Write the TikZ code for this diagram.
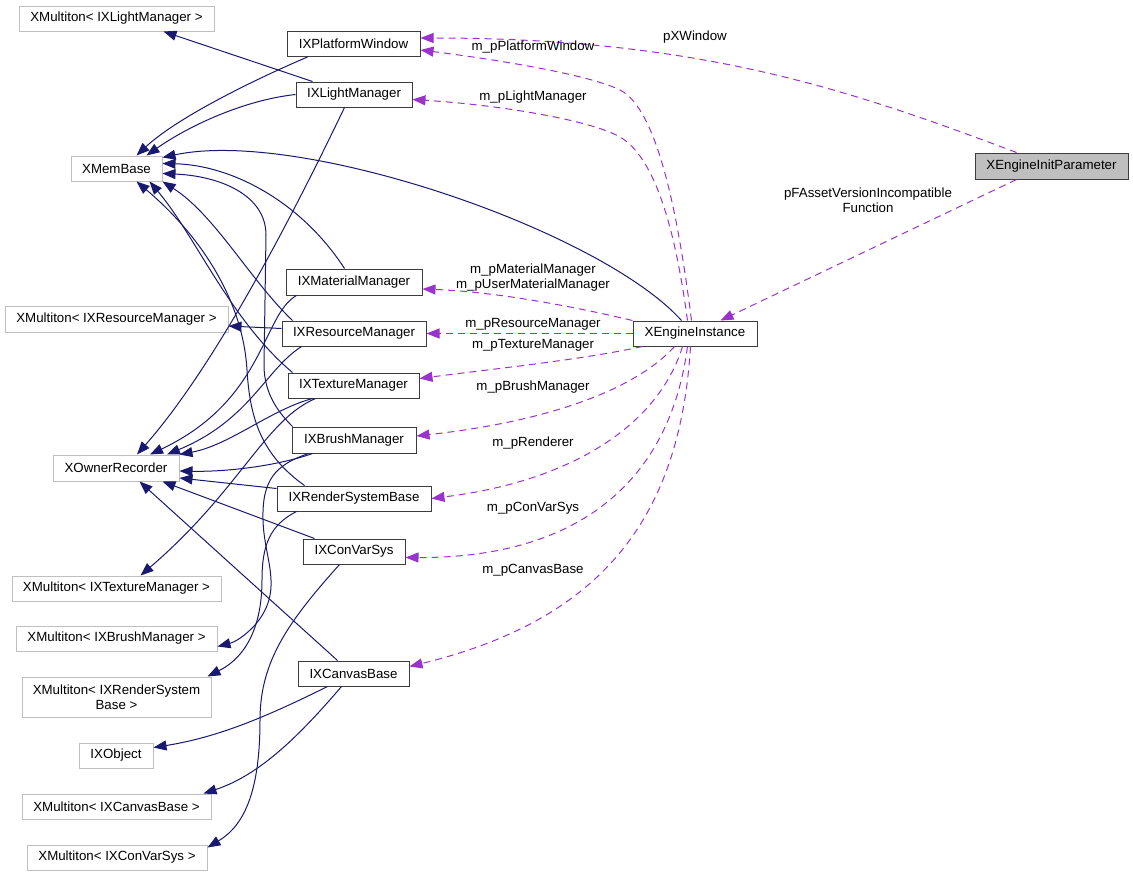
\documentclass[tikz,border=0pt]{standalone}
\usepackage{fontspec}
\setmainfont{Liberation Sans}
\usetikzlibrary{arrows.meta}
\definecolor{navyedge}{RGB}{25,25,112}
\definecolor{purpedge}{RGB}{154,50,205}
\definecolor{greyline}{RGB}{191,191,191}
\definecolor{darkline}{RGB}{60,60,60}
\definecolor{selfill}{RGB}{191,191,191}
\newcommand{\dfs}{\fontsize{13.3}{15}\selectfont}
\tikzset{
  cls/.style={draw=darkline, line width=1pt, minimum height=25pt, inner sep=0pt, align=center, font=\dfs},
  ext/.style={draw=greyline, line width=1pt, minimum height=25pt, inner sep=0pt, align=center, font=\dfs},
  inh/.style={draw=navyedge, line width=1pt, -{Triangle[length=13pt,width=10pt]}, navyedge},
  usage/.style={draw=purpedge, line width=1pt, dash pattern=on 7pt off 5pt, -{Triangle[length=13pt,width=10pt]}, purpedge},
  lbl/.style={font=\dfs, inner sep=0pt, align=center}
}
\begin{document}
\begin{tikzpicture}[x=1pt,y=-1pt]
\useasboundingbox (0,0) rectangle (1133,876);
% nodes
\node[cls, fill=selfill, minimum width=153pt, minimum height=26pt] (XEIP) at (1051.5,166) {XEngineInitParameter};
\node[cls, minimum width=124pt] (XEI) at (695,333.5) {XEngineInstance};
\node[cls, minimum width=133pt] (IXPW) at (353.5,44) {IXPlatformWindow};
\node[cls, minimum width=116pt] (IXLM) at (354,94.5) {IXLightManager};
\node[cls, minimum width=136pt, minimum height=26pt] (IXMM) at (354,282) {IXMaterialManager};
\node[cls, minimum width=144pt] (IXRM) at (354,333.5) {IXResourceManager};
\node[cls, minimum width=131pt] (IXTM) at (353.5,385.5) {IXTextureManager};
\node[cls, minimum width=124pt, minimum height=26pt] (IXBM) at (354,440) {IXBrushManager};
\node[cls, minimum width=154pt] (IXRSB) at (354,498.5) {IXRenderSystemBase};
\node[cls, minimum width=102pt] (IXCVS) at (354,551.5) {IXConVarSys};
\node[cls, minimum width=111pt] (IXCB) at (353.5,673.5) {IXCanvasBase};
\node[ext, minimum width=91pt] (XMB) at (116.5,168.5) {XMemBase};
\node[ext, minimum width=195pt] (XMLM) at (116.5,18.5) {XMultiton< IXLightManager >};
\node[ext, minimum width=223pt, minimum height=26pt] (XMRM) at (116.5,319) {XMultiton< IXResourceManager >};
\node[ext, minimum width=126pt, minimum height=26pt] (XOR) at (116,468) {XOwnerRecorder};
\node[ext, minimum width=209pt] (XMTM) at (116.5,588.5) {XMultiton< IXTextureManager >};
\node[ext, minimum width=201pt] (XMBM) at (116.5,638.5) {XMultiton< IXBrushManager >};
\node[ext, minimum width=189pt, minimum height=40pt] (XMRSB) at (116.5,697) {XMultiton< IXRenderSystem\\Base >};
\node[ext, minimum width=74pt] (IXObj) at (116,755.5) {IXObject};
\node[ext, minimum width=189pt] (XMCB) at (116.5,806.5) {XMultiton< IXCanvasBase >};
\node[ext, minimum width=180pt] (XMCVS) at (117,857.5) {XMultiton< IXConVarSys >};

% inheritance / navy edges
\draw[inh] ([xshift=17pt]IXLM.north west) -- ([xshift=47pt]XMLM.south);
\draw[inh] ([xshift=21pt]IXPW.south west) .. controls (265,75) and (180,115) .. ([xshift=66pt]XMB.north west);
\draw[inh] (IXLM.west) .. controls (245,100) and (190,125) .. ([xshift=76pt]XMB.north west);
\draw[inh] ([xshift=49pt]XEI.north west) .. controls (600,230) and (300,128) .. ([yshift=11pt]XMB.east);
\draw[inh] ([xshift=59pt]IXMM.north west) .. controls (300,200) and (230,165) .. ([yshift=5pt]XMB.east);
\draw[inh] ([xshift=1pt]IXBM.north west) .. controls (280,414) and (264,395) .. (264,365) -- (266,235) .. controls (266,195) and (220,176) .. ([yshift=-5pt]XMB.east);
\draw[inh] ([xshift=11pt]IXRM.north west) .. controls (250,280) and (215,215) .. (XMB.south east);
\draw[inh] ([xshift=5pt]IXTM.north west) .. controls (230,320) and (195,235) .. ([xshift=79pt]XMB.south west);
\draw[inh] ([xshift=28pt]IXRSB.north west) .. controls (262,455) and (250,420) .. (247,370) .. controls (243,300) and (200,235) .. ([xshift=66pt]XMB.south west);

\draw[inh] ([xshift=49pt]IXLM.south west) .. controls (300,200) and (220,360) .. ([xshift=21pt]XOR.north);
\draw[inh] ([xshift=11pt]IXMM.south west) .. controls (262,315) and (265,400) .. ([xshift=34pt]XOR.north);
\draw[inh] ([xshift=20pt]IXRM.south west) .. controls (265,370) and (250,420) .. ([xshift=51pt]XOR.north);
\draw[inh] ([xshift=25pt]IXTM.south west) .. controls (270,410) and (230,445) .. (XOR.north east);
\draw[inh] ([xshift=21pt]IXBM.south west) .. controls (280,465) and (230,472) .. ([yshift=-3pt]XOR.east);
\draw[inh] ([yshift=-3pt]IXRSB.north west) -- ([yshift=-10pt]XOR.east);
\draw[inh] ([xshift=12pt]IXCVS.north west) -- ([xshift=110pt]XOR.south west);
\draw[inh] ([xshift=40pt]IXCB.north west) -- ([xshift=87pt]XOR.south west);

\draw[inh] ([yshift=5pt]IXRM.west) -- ([yshift=-7pt]XMRM.east);
\draw[inh] ([xshift=28pt]IXTM.south west) .. controls (265,420) and (240,490) .. ([xshift=24pt]XMTM.north);
\draw[inh] ([xshift=17pt]IXBM.south west) .. controls (275,465) and (262,480) .. (263,520) .. controls (264,560) and (285,590) .. (255,625) .. controls (245,636) and (235,642) .. ([yshift=-8pt]XMBM.east);
\draw[inh] ([xshift=20pt]IXRSB.south west) .. controls (270,525) and (262,545) .. (262,580) .. controls (262,620) and (250,655) .. ([xshift=-4pt]XMRSB.north east);
\draw[inh] ([xshift=30pt]IXCB.south west) .. controls (270,715) and (220,737) .. ([yshift=8pt]IXObj.east);
\draw[inh] ([xshift=44pt]IXCB.south west) .. controls (300,735) and (260,775) .. ([xshift=-8pt]XMCB.north east);
\draw[inh] ([xshift=37pt]IXCVS.south west) .. controls (290,620) and (260,660) .. (260,720) .. controls (260,790) and (245,825) .. ([yshift=-3pt]XMCVS.north east);

% usage / purple edges
\draw[usage] ([xshift=59pt]XEI.north west) .. controls (680,230) and (660,110) .. (620,90) .. controls (590,75) and (500,60) .. ([yshift=-6pt]IXPW.east);
\draw[usage] ([xshift=42pt]XEIP.north west) .. controls (850,90) and (700,38) .. ([yshift=6pt]IXPW.east);
\draw[usage] ([xshift=42pt]XEIP.south west) -- ([xshift=-37pt]XEI.north east);
\draw[usage] ([xshift=55pt]XEI.north west) .. controls (678,250) and (660,160) .. (620,137) .. controls (590,120) and (500,105) .. ([yshift=-5pt]IXLM.east);
\draw[usage] (XEI.north west) .. controls (580,308) and (500,292) .. ([yshift=-7pt]IXMM.east);
\draw[usage] (XEI.west) -- (IXRM.east);
\draw[usage] ([xshift=10pt]XEI.south west) .. controls (580,360) and (500,368) .. ([yshift=7pt]IXTM.east);
\draw[usage] ([xshift=42pt]XEI.south west) .. controls (640,385) and (560,420) .. ([yshift=4pt]IXBM.east);
\draw[usage] ([xshift=50pt]XEI.south west) .. controls (660,420) and (580,480) .. (IXRSB.east);
\draw[usage] ([xshift=55pt]XEI.south west) .. controls (670,480) and (580,558) .. ([yshift=-6pt]IXCVS.east);
\draw[usage] ([xshift=58pt]XEI.south west) .. controls (680,520) and (600,620) .. ([yshift=7pt]IXCB.east);

% labels
\node[lbl] (Lpx) at (695,37) {pXWindow};
\node[lbl] (Lpf) at (868,200) {pFAssetVersionIncompatible\\Function};
\node[lbl] (Lpw) at (533,47) {m\_pPlatformWindow};
\node[lbl] (Llm) at (533,97) {m\_pLightManager};
\node[lbl] (Lmm) at (533,278) {m\_pMaterialManager\\m\_pUserMaterialManager};
\node[lbl] (Lrm) at (533,324) {m\_pResourceManager};
\node[lbl] (Ltm) at (533,345) {m\_pTextureManager};
\node[lbl] (Lbm) at (533,387) {m\_pBrushManager};
\node[lbl] (Lrs) at (533,443) {m\_pRenderer};
\node[lbl] (Lcv) at (533,508) {m\_pConVarSys};
\node[lbl] (Lcb) at (533,570) {m\_pCanvasBase};
\end{tikzpicture}
\end{document}
